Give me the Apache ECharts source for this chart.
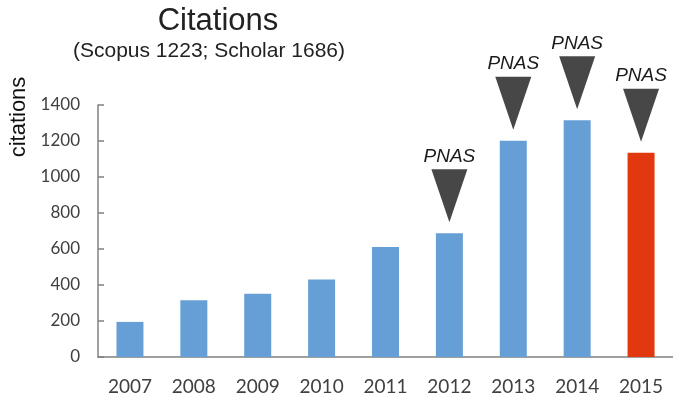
<!DOCTYPE html>
<html>
<head>
<meta charset="utf-8">
<script src="https://cdn.jsdelivr.net/npm/echarts@6/dist/echarts.min.js"></script>
<style>html,body{margin:0;padding:0;background:#fff;}#c{width:673px;height:400px;}</style>
</head>
<body>
<div id="c"></div>
<script>
var years = ['2007','2008','2009','2010','2011','2012','2013','2014','2015'];
var citations = [195, 315, 352, 431, 611, 688, 1202, 1315, 1135];
var pnasFlags = [0, 0, 0, 0, 0, 1, 1, 1, 1];
var currentYear = '2015';
var yTicks = [0, 200, 400, 600, 800, 1000, 1200, 1400];

var blue = '#669fd5';
var red = '#e2380f';

var barData = citations.map(function (v, i) {
  return { value: v, itemStyle: { color: years[i] === currentYear ? red : blue } };
});
var pnasData = citations.map(function (v, i) { return pnasFlags[i] ? v : '-'; });

var chart = echarts.init(document.getElementById('c'));
chart.setOption({
  animation: false,
  backgroundColor: '#ffffff',
  grid: { left: 98, top: 105, height: 252, width: 582, containLabel: false },
  xAxis: {
    type: 'category',
    data: years,
    axisLine: { lineStyle: { color: '#808080', width: 1.5 } },
    axisTick: { show: false },
    axisLabel: { color: '#404040', fontSize: 19, fontFamily: 'Lato', margin: 20 }
  },
  yAxis: {
    type: 'value',
    min: yTicks[0],
    max: yTicks[yTicks.length - 1],
    interval: 200,
    splitLine: { show: false },
    axisLine: { show: true, lineStyle: { color: '#808080', width: 1.5 } },
    axisTick: { show: true, inside: true, length: 6, lineStyle: { color: '#808080', width: 1.5 } },
    axisLabel: { color: '#404040', fontSize: 17, fontFamily: 'Lato', margin: 18, formatter: function (v) { return String(v); } }
  },
  graphic: [
    { type: 'text', x: 218, y: 21, style: { text: 'Citations', fill: '#222', font: '31px "Liberation Sans", Arial, sans-serif', textAlign: 'center', textVerticalAlign: 'middle' } },
    { type: 'text', x: 209, y: 51, style: { text: '(Scopus 1223; Scholar 1686)', fill: '#222', font: '21px "Liberation Sans", Arial, sans-serif', textAlign: 'center', textVerticalAlign: 'middle' } },
    { type: 'text', x: 19, y: 117, rotation: Math.PI / 2, style: { text: 'citations', fill: '#111', font: '22px "Liberation Sans", Arial, sans-serif', textAlign: 'center', textVerticalAlign: 'middle' } }
  ],
  series: [
    {
      type: 'bar',
      data: barData,
      barWidth: 27,
      z: 2
    },
    {
      type: 'scatter',
      data: pnasData,
      symbol: 'path://M0,0L36,0L18,53Z',
      symbolSize: [36, 53],
      symbolKeepAspect: false,
      symbolOffset: [0, -37.5],
      itemStyle: { color: '#474747', opacity: 1 },
      label: {
        show: true,
        position: 'top',
        distance: 3,
        formatter: 'PNAS',
        color: '#1a1a1a',
        fontSize: 19,
        fontStyle: 'italic',
        fontFamily: '"Liberation Sans", Arial, sans-serif'
      },
      z: 3
    }
  ]
});
</script>
</body>
</html>
